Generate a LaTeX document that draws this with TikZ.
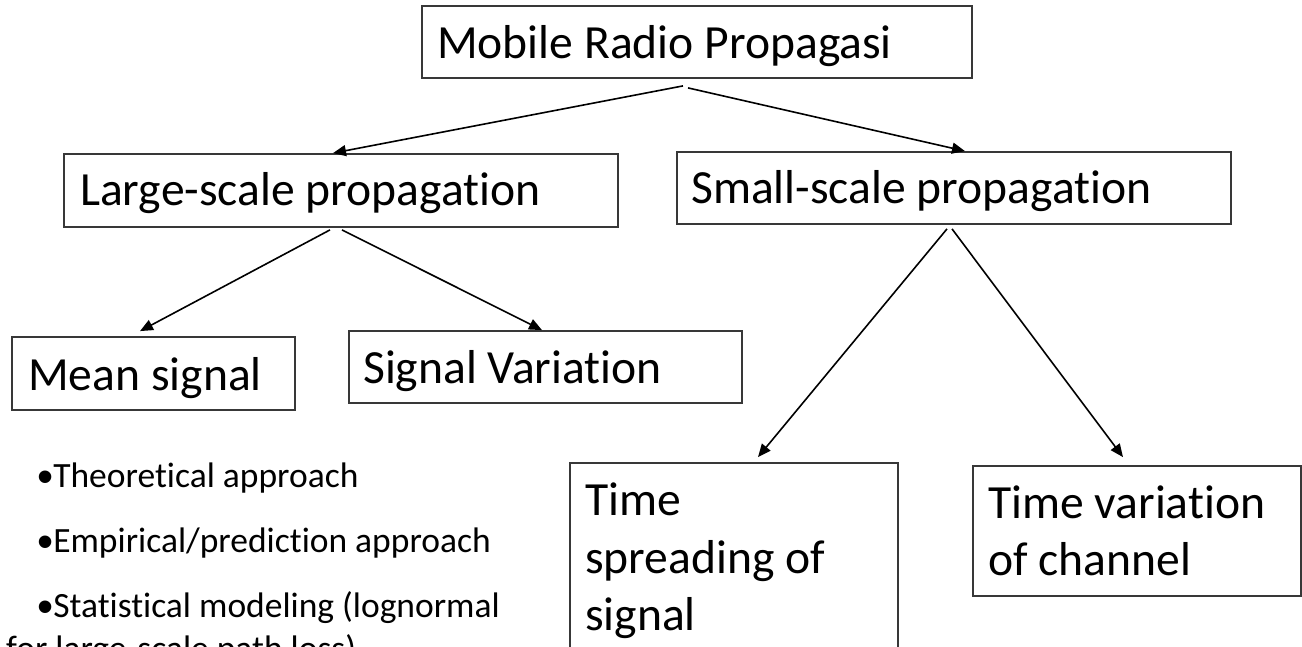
\documentclass[tikz,border=0pt]{standalone}
\usepackage{fontspec}
\setmainfont{Carlito}[Ligatures=NoCommon]
\newfontfamily\bulfont{Liberation Sans}
\usetikzlibrary{arrows.meta,calc,fit}
\newcommand{\bulmark}{\raisebox{-5.5pt}{\fontsize{46}{46}\bulfont •}}
\begin{document}
\begin{tikzpicture}[x=1pt,y=-1pt,
  box/.style={draw=black!78, line width=1.8pt, inner sep=0pt},
  lbl/.style={anchor=base west, inner sep=0pt, font=\fontsize{47.6}{57.4}\selectfont},
  bul/.style={anchor=base west, inner sep=0pt, font=\fontsize{35.5}{43}\selectfont},
  arr/.style={-{Triangle[length=13pt,width=11pt]}, line width=1.6pt, draw=black}]
\useasboundingbox (0,0) rectangle (1302,646);
\begin{scope}
\clip (0,0) rectangle (1302,646);
% boxes
\node[box, fit={(422,6) (972,78)}] (top) {};
\node[box, fit={(64,154) (618,227)}] (large) {};
\node[box, fit={(677,152) (1231,224)}] (small) {};
\node[box, fit={(12,337) (295,410)}] (mean) {};
\node[box, fit={(349,331) (742,403)}] (sv) {};
\node[box, fit={(570,463) (898,680)}] (ts) {};
\node[box, fit={(973,466) (1301,596)}] (tv) {};
% texts
\node[lbl] (toptxt) at (437,58) {Mobile Radio Propagasi};
\node[lbl] (largetxt) at (80,205) {Large-scale propagation};
\node[lbl] (smalltxt) at (691,203) {Small-scale propagation};
\node[lbl] (meantxt) at (28,390) {Mean signal};
\node[lbl] (svtxt) at (363,383) {Signal Variation};
\node[lbl] (tsa) at (585,515) {Time};
\node[lbl] (tsb) at (585,573) {spreading of};
\node[lbl] (tsc) at (585,630) {signal};
\node[lbl] (tva) at (988,518) {Time variation};
\node[lbl] (tvb) at (988,575) {of channel};
\node[bul] (b1) at (37,487) {\bulmark Theoretical approach};
\node[bul] (b2) at (37,552) {\bulmark Empirical/prediction approach};
\node[bul] (b3) at (37,617) {\bulmark Statistical modeling (lognormal};
\node[bul] (b4) at (6,660) {for large-scale path loss)};
% arrows
\draw[arr] ($(top.south)+(-14,7)$) -- ($(large.north)+(-8,0)$);
\draw[arr] ($(top.south)+(-9,9)$) -- ($(small.north)+(11,0)$);
\draw[arr] ($(large.south)+(-11,2)$) -- ($(mean.north)+(-13.5,-5)$);
\draw[arr] ($(large.south)+(1,2)$) -- ($(sv.north)+(-3.5,0)$);
\draw[arr] ($(small.south)+(-7,4)$) -- ($(ts.north)+(24,-5)$);
\draw[arr] ($(small.south)+(-2,4)$) -- ($(tv.north)+(-14,-8)$);
\end{scope}
\end{tikzpicture}
\end{document}
